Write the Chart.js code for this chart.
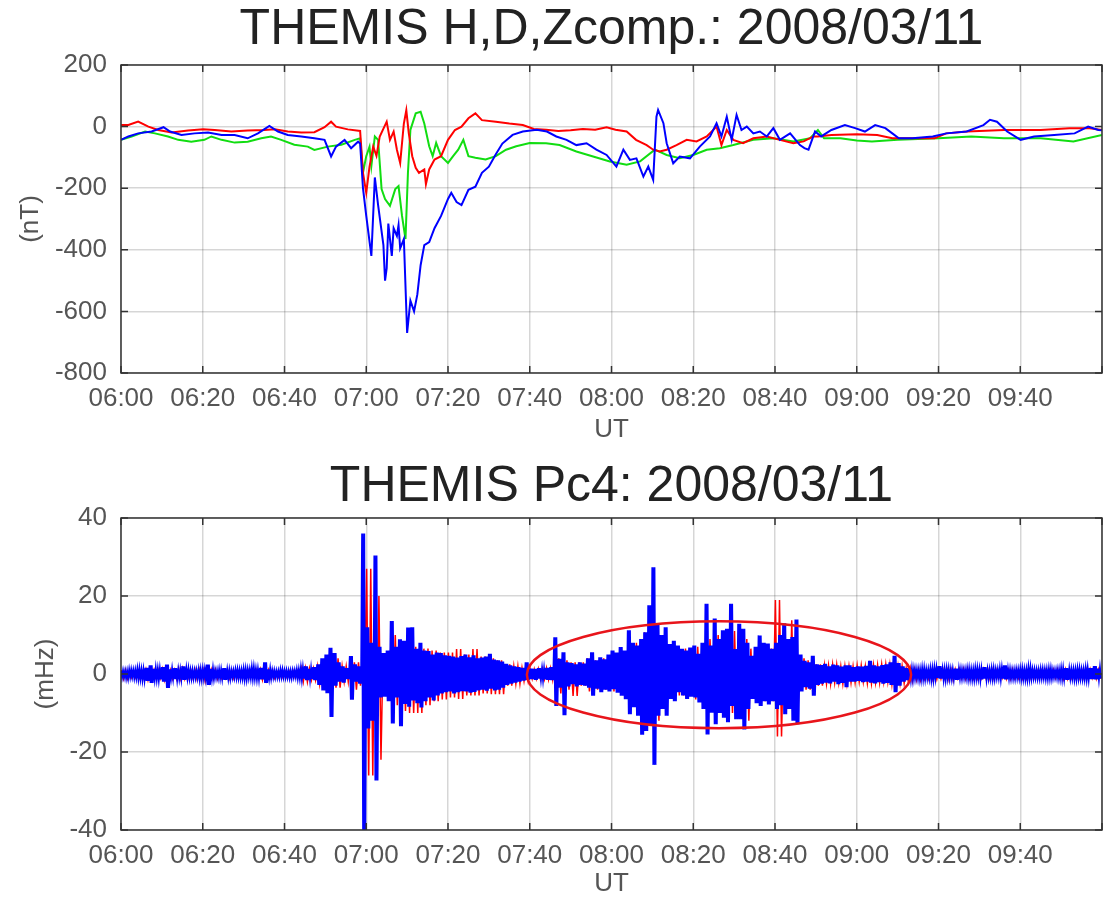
<!DOCTYPE html>
<html>
<head>
<meta charset="utf-8">
<script src="https://cdn.jsdelivr.net/npm/chart.js@4.4.1/dist/chart.umd.min.js"></script>
<style>
  body { margin: 0; background: #fff; }
  canvas { display: block; }
</style>
</head>
<body>
<canvas id="magChart" width="1112" height="455"></canvas>
<canvas id="pc4Chart" width="1112" height="443"></canvas>
<script>
// x values are minutes after 06:00 UT
const xTicks = [0, 20, 40, 60, 80, 100, 120, 140, 160, 180, 200, 220, 240];

// ---- H,D,Z components (nT) ----
const hTime = [0, 1.8, 4.2, 7.5, 10.4, 12, 14.8, 18, 21.3, 24.6, 27.8, 31, 33.5, 36.3, 38.4, 40.8, 44.1, 47.3, 49.8, 51.4,
  52.6, 54.7, 56.3, 58, 58.5, 59.2, 60, 61.25, 62.1, 62.9, 64.2, 64.6, 65, 65.4, 66.25, 66.7, 67.5, 67.9, 68.3, 69.2,
  70, 70.8, 71.7, 72.5, 73.3, 74.2, 75.4, 76.7, 78.3, 80, 80.8, 82.1, 83.3, 85, 86.7, 88.3, 90, 91.7, 93.3, 95.8,
  98.3, 101.7, 104.2, 106.5, 109, 111.4, 113.9, 116.3, 118.8, 121.2, 122.9, 124.5, 126.1, 127.8, 129, 130.2, 131, 131.4, 132.7, 133.5,
  135.1, 136.7, 139.2, 141.6, 144.1, 145.7, 146.9, 148.2, 149.4, 150.6, 151.8, 153.1, 154.7, 156.3, 158, 159.6, 161.2, 163.7, 166.1, 167.2,
  168.2, 169.8, 171.3, 173.8, 177.1, 179.6, 182, 184.5, 187, 188.7, 190.3, 193.6, 198.6, 201.9, 206.9, 211, 212.6, 214.3, 216.8, 220.1,
  223.4, 228.3, 233.3, 236.6, 239.1, 240];
const hVal = [-43, -32, -22, -16, -2, -16, -27, -22, -19, -27, -27, -38, -22, 2, -16, -27, -32, -38, -43, -97,
  -65, -43, -70, -49, -55, -200, -290, -420, -165, -255, -385, -500, -460, -315, -420, -330, -355, -320, -395, -365,
  -670, -565, -600, -545, -450, -385, -375, -330, -290, -235, -215, -245, -255, -205, -195, -150, -130, -90, -55, -27,
  -16, -10, -16, -32, -43, -60, -54, -75, -92, -130, -75, -108, -103, -162, -130, -173, 32, 54, 11, -54,
  -119, -97, -103, -65, -32, 11, -32, 32, -43, 38, -11, 0, -22, -16, -32, -5, -43, -22, -60, -70,
  -75, -16, -32, -11, 5, -5, -16, 5, -5, -22, -38, -38, -32, -22, -16, 5, 22, 16, -16, -43,
  -32, -27, -22, 0, -11, -12];

const dTime = [0, 1.8, 4.2, 6.7, 9.1, 12.4, 16.4, 20.1, 22.9, 27, 31, 35.1, 37.6, 40.8, 44.1, 47.3, 49.8, 51.4, 52.6, 55.5,
  58.5, 59.2, 60, 60.8, 61.7, 62.5, 63.3, 65, 65.8, 66.7, 67.5, 68.3, 69.2, 69.8, 70.4, 71.25, 72.1, 72.9, 74.2, 74.6,
  75.4, 76.7, 78.3, 80, 81.7, 83.3, 85, 86.7, 88.3, 91.7, 95, 98.3, 101, 104, 107, 110, 113, 116, 118.8, 121,
  123.7, 126, 128.6, 130.2, 131.8, 133.5, 135.9, 138.4, 140.8, 143.3, 145.7, 146.9, 148.2, 149.8, 152.2, 154.7, 158, 161.2, 164.5, 167,
  169.4, 170.5, 173.8, 180, 185, 188.7, 195, 199, 201.9, 207, 216, 225, 232, 237, 240];
const dVal = [5, 5, 16, 0, -11, -19, -13, -9, -11, -16, -13, -11, -9, -16, -19, -18, -2, 16, 0, -9,
  -14, -150, -215, -130, -65, -95, -32, 16, -43, -16, -75, -118, 10, 53, -21, -96, -134, -150, -139, -187,
  -139, -107, -96, -43, -11, 0, 27, 43, 21, 16, 10, 5, -8, -10, -14, -12, -8, -10, -2, -10,
  -16, -43, -60, -75, -81, -75, -60, -43, -48, -32, 0, -60, -11, -43, -54, -38, -32, -43, -54, -48,
  -32, -32, -27, -25, -27, -38, -38, -38, -22, -16, -11, -11, -5, -5, -11];

const zTime = [0, 2.6, 5.9, 8.3, 11.5, 14, 17.2, 20.4, 22.1, 24.6, 27.8, 31, 34.3, 36.7, 39.2, 42.4, 45.7, 47.3, 50.6, 53.9,
  57.2, 58.5, 59.2, 60, 60.8, 61.25, 62.1, 62.9, 63.75, 64.6, 65.8, 67.1, 67.9, 68.75, 69.6, 70.2, 70.8, 72.1, 73.3, 74.2,
  75.4, 76.25, 77.1, 78.3, 80, 81.25, 82.5, 83.75, 85, 86.7, 89.2, 91.7, 94.2, 96.7, 100, 104, 107.3, 111.4, 115.5, 119.6,
  123.7, 127, 130.6, 133.5, 136.7, 140, 143.3, 146.5, 149.8, 154.7, 159.6, 164.5, 168.6, 170.5, 172, 176, 180, 183.7, 190, 200,
  208, 216, 225, 233, 240];
const zVal = [-43, -32, -16, -22, -32, -43, -49, -43, -32, -43, -52, -49, -38, -32, -43, -59, -65, -76, -65, -59,
  -43, -38, -150, -96, -65, -128, -32, -43, -203, -235, -257, -203, -193, -290, -365, -150, -11, 43, 48, 10,
  -64, -96, -53, -96, -118, -96, -75, -43, -96, -101, -107, -96, -75, -64, -53, -54, -60, -81, -97, -113,
  -124, -113, -75, -92, -103, -92, -75, -70, -60, -43, -38, -48, -38, -11, -38, -38, -45, -48, -43, -38,
  -32, -38, -38, -48, -27];

// ---- Pc4 (mHz): per-minute upper / lower envelope, index = minute after 06:00 ----
const blueUp = [
  0.8,0.7,1.0,0.9,1.2,1.0,1.6,2.2,1.3,1.1,  1.8,2.4,1.2,1.5,1.0,2.0,1.2,0.9,0.8,1.0,
  1.1,2.4,1.3,0.8,1.0,1.5,0.9,0.8,1.0,0.9,  1.1,1.0,1.5,1.1,1.6,3.0,1.2,0.8,0.7,1.0,
  0.8,0.7,0.8,1.0,1.4,2.0,1.3,1.8,2.5,4.0,  5.0,6.7,5.4,3.0,2.0,1.5,4.6,2.5,2.0,36.0,
  12.0,8.0,30.4,7.0,5.4,6.0,13.6,7.0,8.9,8.5,  11.9,12.0,6.5,8.0,6.0,5.9,5.0,5.5,5.4,4.8,
  4.7,4.5,4.2,4.6,5.0,4.3,4.8,4.0,4.2,4.5,  5.2,3.7,3.5,3.2,2.6,2.2,2.0,1.8,1.6,3.0,
  1.4,1.3,1.5,1.2,1.6,1.8,9.4,3.9,5.6,3.0,  2.8,2.5,3.0,2.7,4.0,5.6,3.5,4.3,3.8,5.0,
  6.0,5.5,6.9,6.0,11.2,8.0,7.3,9.0,10.7,17.6,  27.4,12.9,10.0,12.0,7.7,8.5,7.3,6.5,6.0,6.8,
  7.3,5.2,8.0,18.0,7.3,14.2,9.0,11.2,11.6,18.0,  6.4,12.9,11.6,8.0,4.7,7.0,9.9,8.0,7.8,6.5,
  8.0,10.0,13.0,9.0,9.5,14.0,5.0,3.4,3.0,4.7,  2.5,2.3,2.6,2.0,2.4,2.2,1.9,2.2,2.2,1.8,
  2.0,1.9,2.1,3.4,2.2,2.0,2.3,2.5,3.0,4.7,  2.8,2.0,1.5,1.2,1.1,1.0,1.3,1.0,1.2,1.4,
  2.0,1.1,1.2,1.0,1.4,1.1,1.0,1.2,1.0,1.3,  1.1,1.8,1.0,1.2,1.0,1.3,2.2,1.1,0.9,1.0,
  1.2,1.0,1.5,1.0,0.9,1.1,1.0,1.2,0.9,1.0,  1.3,1.5,1.1,1.0,1.2,1.0,1.3,1.5,2.0,1.4];
const blueDown = [
  -0.8,-1.0,-0.7,-0.9,-1.1,-1.3,-1.8,-2.3,-1.2,-1.4,  -2.0,-3.6,-1.0,-1.3,-1.1,-1.5,-1.0,-1.0,-0.9,-1.2,
  -1.0,-2.8,-1.1,-0.9,-1.0,-1.5,-1.1,-0.8,-0.9,-1.0,  -1.2,-0.9,-1.0,-1.2,-1.4,-2.3,-1.0,-0.8,-0.8,-0.7,
  -0.8,-0.9,-0.7,-1.0,-1.2,-1.6,-1.3,-1.6,-2.8,-4.2,  -4.9,-11.0,-3.0,-2.0,-2.2,-1.3,-6.6,-2.0,-2.5,-41.0,
  -14.0,-12.0,-27.3,-6.0,-5.8,-7.0,-12.7,-6.0,-13.4,-7.7,  -8.4,-6.8,-7.5,-8.6,-7.0,-6.0,-6.8,-5.5,-5.0,-4.7,
  -4.5,-5.0,-4.7,-4.4,-4.5,-4.8,-4.6,-4.2,-4.0,-4.3,  -3.8,-4.2,-4.0,-3.5,-2.8,-2.5,-2.2,-2.0,-1.7,-1.5,
  -1.3,-1.5,-1.2,-1.4,-1.5,-1.6,-8.2,-3.5,-10.6,-3.2,  -2.6,-3.2,-2.8,-3.0,-3.5,-5.6,-3.8,-4.7,-4.0,-4.5,
  -3.9,-4.8,-5.6,-6.5,-10.3,-8.5,-10.7,-15.6,-14.6,-13.3,  -23.3,-10.7,-9.0,-10.7,-6.4,-7.0,-4.7,-5.5,-6.4,-5.8,
  -6.0,-7.3,-9.0,-15.5,-9.9,-12.9,-10.0,-11.2,-12.4,-8.2,  -11.6,-11.6,-14.2,-9.0,-6.4,-7.5,-8.2,-7.0,-7.8,-7.0,
  -9.0,-8.0,-10.3,-9.0,-12.0,-12.9,-4.5,-3.4,-3.8,-5.6,  -2.8,-2.5,-2.2,-2.4,-2.0,-2.6,-2.3,-3.4,-2.0,-2.0,
  -1.8,-2.1,-2.0,-2.2,-2.4,-2.1,-2.5,-2.3,-2.8,-4.7,  -3.0,-2.0,-1.6,-1.3,-1.0,-1.2,-1.1,-1.0,-1.3,-1.0,
  -1.2,-1.3,-1.0,-1.1,-1.5,-1.0,-0.9,-1.1,-1.2,-1.0,  -1.4,-1.2,-1.0,-1.1,-0.9,-1.2,-1.4,-1.0,-1.0,-0.9,
  -1.1,-1.2,-1.0,-0.9,-1.0,-0.9,-1.1,-1.0,-0.8,-1.0,  -1.1,-1.5,-1.0,-1.2,-1.0,-1.1,-1.2,-1.3,-1.4,-1.2];

// red trace envelope, one pair every 2 minutes
const redUp = [
  1.0,0.8,0.9,1.2,1.0,1.3,1.0,1.4,1.0,1.2,  1.0,1.1,0.9,1.0,0.8,0.9,1.0,1.2,1.0,0.7,
  0.8,0.8,1.5,1.4,2.0,3.5,4.0,2.0,3.0,3.0,  27.0,20.0,5.4,10.0,7.0,9.0,7.0,6.5,6.0,5.5,
  5.5,6.4,5.0,6.4,4.5,4.0,3.5,2.5,2.0,1.6,  1.2,1.3,1.5,4.0,3.5,3.0,3.0,4.0,3.5,4.0,
  4.5,5.0,7.0,8.0,10.7,12.0,9.0,7.5,6.0,6.5,  7.0,7.0,9.0,10.0,10.0,11.0,9.0,6.5,7.0,6.5,
  19.0,9.0,13.8,4.0,3.5,2.5,2.2,2.4,2.0,2.0,  2.2,2.0,2.3,2.5,2.4,2.0,1.5,1.2,1.0,1.2,
  1.1,1.0,1.2,1.3,1.0,1.2,1.1,1.0,1.0,1.2,  1.1,1.0,0.9,1.0,1.1,1.2,1.0,1.0,1.2,1.1];
const redDown = [
  -1.2,-0.9,-1.0,-1.5,-1.1,-1.5,-1.2,-1.2,-1.0,-1.3,  -1.9,-1.2,-1.0,-1.1,-0.9,-1.0,-1.0,-1.5,-1.0,-0.8,
  -0.8,-0.9,-2.0,-1.5,-2.5,-4.0,-3.5,-2.0,-4.0,-3.0,  -26.0,-22.0,-5.0,-8.0,-9.5,-10.0,-10.0,-8.0,-7.0,-6.5,
  -6.0,-6.4,-5.5,-5.5,-5.0,-5.2,-5.2,-3.0,-2.5,-1.8,  -1.2,-1.3,-1.4,-5.0,-4.0,-5.6,-3.0,-4.5,-4.0,-4.0,
  -4.5,-5.0,-7.0,-9.0,-11.0,-12.0,-9.0,-6.0,-5.5,-5.5,  -6.5,-8.0,-8.0,-10.0,-10.0,-9.0,-12.0,-6.0,-7.0,-7.0,
  -16.0,-9.0,-10.0,-4.0,-4.0,-3.0,-2.5,-2.2,-2.5,-2.2,  -2.0,-2.4,-2.2,-2.0,-2.6,-2.4,-1.8,-1.5,-1.2,-1.3,
  -1.2,-1.6,-1.0,-1.2,-1.1,-1.0,-1.3,-1.0,-1.2,-1.0,  -1.1,-1.0,-1.0,-0.9,-1.0,-1.2,-1.0,-1.1,-1.0,-1.2];

// highlighted interval: [centre minute, half width (min), centre mHz, half height (mHz)]
const pc4Ellipse = [146.3, 47, -0.2, 13.7];

const FONT = "'Liberation Sans', Arial, Helvetica, sans-serif";

function pairs(times, vals) {
  return times.map((t, i) => ({x: t, y: vals[i]}));
}
function hhmm(v) {
  if (v >= 240) return '';
  const h = 6 + Math.floor(v / 60), m = v % 60;
  return String(h).padStart(2, '0') + ':' + String(m).padStart(2, '0');
}

// MATLAB style box with inward tick marks
const framePlugin = {
  id: 'frame',
  afterDatasetsDraw(chart) {
    const {ctx, chartArea: a, scales} = chart;
    ctx.save();
    ctx.strokeStyle = '#333';
    ctx.lineWidth = 1.5;
    ctx.beginPath();
    scales.x.ticks.forEach(t => {
      const px = scales.x.getPixelForValue(t.value);
      ctx.moveTo(px, a.bottom); ctx.lineTo(px, a.bottom - 7);
      ctx.moveTo(px, a.top); ctx.lineTo(px, a.top + 7);
    });
    scales.y.ticks.forEach(t => {
      const py = scales.y.getPixelForValue(t.value);
      ctx.moveTo(a.left, py); ctx.lineTo(a.left + 7, py);
      ctx.moveTo(a.right, py); ctx.lineTo(a.right - 7, py);
    });
    ctx.stroke();
    ctx.strokeRect(a.left, a.top, a.right - a.left, a.bottom - a.top);
    ctx.restore();
  }
};

const ellipsePlugin = {
  id: 'pc4Ellipse',
  afterDatasetsDraw(chart) {
    const {ctx, scales: {x, y}} = chart;
    const cx = x.getPixelForValue(pc4Ellipse[0]);
    const rx = x.getPixelForValue(pc4Ellipse[0] + pc4Ellipse[1]) - cx;
    const cy = y.getPixelForValue(pc4Ellipse[2]);
    const ry = cy - y.getPixelForValue(pc4Ellipse[2] + pc4Ellipse[3]);
    ctx.save();
    ctx.strokeStyle = '#e8151b';
    ctx.lineWidth = 2.5;
    ctx.beginPath();
    ctx.ellipse(cx, cy, rx, ry, 0, 0, Math.PI * 2);
    ctx.stroke();
    ctx.restore();
  }
};

function makeOptions(o) {
  return {
    responsive: false,
    animation: false,
    devicePixelRatio: 1,
    parsing: false,
    layout: { padding: { left: 0, right: 7, top: 0, bottom: 0 } },
    plugins: {
      legend: { display: false },
      tooltip: { enabled: false },
      title: {
        display: true,
        text: o.title,
        fullSize: false,
        color: '#222',
        font: { family: FONT, size: 50, weight: 'normal', lineHeight: 1.2 },
        padding: o.titlePad
      }
    },
    scales: {
      x: {
        type: 'linear',
        min: 0,
        max: 240,
        afterBuildTicks: s => { s.ticks = xTicks.map(v => ({value: v})); },
        afterFit: s => { s.height = o.xHeight; },
        grid: { color: 'rgba(0,0,0,0.16)', lineWidth: 1.5, drawTicks: false },
        border: { display: false },
        ticks: {
          autoSkip: false, maxRotation: 0, padding: 10, color: '#555',
          font: { family: FONT, size: 26 },
          callback: v => hhmm(v)
        },
        title: {
          display: true, text: 'UT', color: '#555',
          font: { family: FONT, size: 26, lineHeight: 1 },
          padding: { top: 0, bottom: o.utPad }
        }
      },
      y: {
        min: o.yMin,
        max: o.yMax,
        afterFit: s => { s.width = 121; },
        grid: { color: 'rgba(0,0,0,0.16)', lineWidth: 1.5, drawTicks: false },
        border: { display: false },
        ticks: {
          stepSize: o.yStep, padding: 14, color: '#555',
          font: { family: FONT, size: 26 }
        },
        title: {
          display: true, text: o.yTitle, color: '#555',
          font: { family: FONT, size: 26, lineHeight: 1 },
          padding: { top: o.yTitlePad, bottom: 0 }
        }
      }
    }
  };
}

new Chart(document.getElementById('magChart'), {
  type: 'line',
  data: {
    datasets: [
      { data: pairs(hTime, hVal), borderColor: '#0000ff', borderWidth: 2, pointRadius: 0, tension: 0 },
      { data: pairs(dTime, dVal), borderColor: '#ff0000', borderWidth: 2, pointRadius: 0, tension: 0 },
      { data: pairs(zTime, zVal), borderColor: '#11dd11', borderWidth: 2, pointRadius: 0, tension: 0 }
    ]
  },
  options: makeOptions({
    title: 'THEMIS H,D,Zcomp.: 2008/03/11', titlePad: { top: 0, bottom: 5 },
    xHeight: 82, utPad: 12, yMin: -800, yMax: 200, yStep: 200, yTitle: '(nT)', yTitlePad: 18
  }),
  plugins: [framePlugin]
});

// each minute's envelope is drawn as two swings (up, down, up, down) so the
// oscillation reads as a dense band like the original trace
const bluePts = [];
blueUp.forEach((v, i) => {
  const lo = blueDown[i];
  bluePts.push({x: i, y: v}, {x: i + 0.25, y: lo}, {x: i + 0.5, y: v}, {x: i + 0.75, y: lo});
});
const redPts = [];
redUp.forEach((v, j) => {
  const lo = redDown[j];
  redPts.push({x: 2 * j + 0.1, y: v}, {x: 2 * j + 0.6, y: lo}, {x: 2 * j + 1.1, y: v}, {x: 2 * j + 1.6, y: lo});
});

new Chart(document.getElementById('pc4Chart'), {
  type: 'line',
  data: {
    datasets: [
      { data: bluePts, borderColor: '#0000ff', borderWidth: 2, pointRadius: 0, tension: 0 },
      { data: redPts, borderColor: '#ff0000', borderWidth: 1.5, pointRadius: 0, tension: 0 }
    ]
  },
  options: makeOptions({
    title: 'THEMIS Pc4: 2008/03/11', titlePad: { top: 2, bottom: 1 },
    xHeight: 68, utPad: 1, yMin: -40, yMax: 40, yStep: 20, yTitle: '(mHz)', yTitlePad: 33
  }),
  plugins: [framePlugin, ellipsePlugin]
});
</script>
</body>
</html>
